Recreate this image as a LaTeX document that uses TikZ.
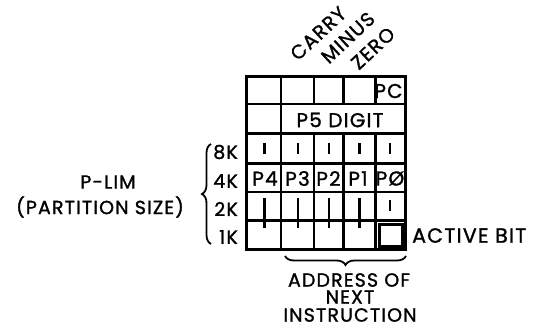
\documentclass[tikz,border=0pt]{standalone}
\usepackage{fontspec}
\setmainfont{Poppins}[RawFeature={embolden=1.3}, LetterSpace=6]
\usetikzlibrary{decorations.pathreplacing}
\tikzset{
  grid line/.style={line width=2.6pt, line cap=rect},
  tick/.style={line width=2.2pt},
  lbl/.style={inner sep=0pt, font=\fontsize{19}{19}\selectfont},
  cell/.style={inner sep=0pt, font=\fontsize{20}{20}\selectfont},
  rot/.style={inner sep=0pt, anchor=south west, rotate=43, font=\fontsize{19.5}{19.5}\selectfont},
  bracestyle/.style={line width=1.8pt, decorate, decoration={brace, amplitude=9pt}}
}
\begin{document}
\begin{tikzpicture}[x=1pt,y=-1pt]
\useasboundingbox[fill=white] (0,0) rectangle (536,327);
% grid coordinates
\def\xa{246.5}\def\xb{281}\def\xc{314}\def\xd{343.5}\def\xe{375.5}\def\xf{405}
\def\ya{76}\def\yb{104}\def\yc{133.5}\def\yd{163.5}\def\ye{192}\def\yf{220.5}\def\yg{249}
% outer border
\draw[grid line, line width=3pt] (\xa,\ya) rectangle (\xf,\yg);
% horizontal lines
\foreach \yy in {\yb,\yc,\yd,\ye,\yf} \draw[grid line] (\xa,\yy) -- (\xf,\yy);
% vertical lines (skip in P5 DIGIT row)
\foreach \xx in {\xc,\xd,\xe} {
  \draw[grid line] (\xx,\ya) -- (\xx,\yb);
  \draw[grid line] (\xx,\yc) -- (\xx,\yg);
}
\draw[grid line] (\xb,\ya) -- (\xb,\yg);
% short ticks in 8K row
\foreach \xx in {264.5,298,329,359.5,390} \draw[tick] (\xx,143) -- (\xx,154);
% long ticks spanning 2K and 1K rows
\foreach \xx in {264.5,298,329,359.5} \draw[tick] (\xx,198) -- (\xx,228);
% short tick in 2K row, last column
\draw[tick] (390,200) -- (390,211);
% active bit box
\draw[line width=3pt] (379.5,224) rectangle (402.5,246);
% cell texts
\node[cell] (pc) at (388.5,91) {PC};
\node[cell] (p5) at (340,120) {P5 DIGIT};
\node[cell] (p4) at (265,178.5) {P4};
\node[cell] (p3) at (297.5,178.5) {P3};
\node[cell] (p2) at (328.5,178.5) {P2};
\node[cell] (p1) at (358,178.5) {P1};
\node[cell] (p0) at (390,178.5) {PØ};
% column labels
\node[rot] (carry) at (298,62) {CARRY};
\node[rot] (minus) at (329,65) {MINUS};
\node[rot] (zero) at (359,71) {ZERO};
% row labels
\node[lbl, anchor=east] (k8) at (238,152) {8K};
\node[lbl, anchor=east] (k4) at (238,181) {4K};
\node[lbl, anchor=east] (k2) at (238,209) {2K};
\node[lbl, anchor=east] (k1) at (238,237) {1K};
% left brace and its label
\coordinate (lbB) at (211,244);
\coordinate (lbT) at (211,144);
\draw[bracestyle] (lbB) -- (lbT);
\node[lbl] (plim) at (108,182) {P-LIM};
\node[lbl] (psize) at (100,207) {(PARTITION SIZE)};
% bottom brace
\coordinate (bbR) at (406,256);
\coordinate (bbL) at (285,256);
\draw[bracestyle] (bbR) -- (bbL);
\node[lbl] (addr) at (349,280) {ADDRESS OF};
\node[lbl] (next) at (350,297) {NEXT};
\node[lbl] (instr) at (350,315) {INSTRUCTION};
% active bit label
\node[lbl, anchor=west, font=\fontsize{20.5}{20.5}\selectfont] (active) at (412,235.5) {ACTIVE BIT};
\end{tikzpicture}
\end{document}
